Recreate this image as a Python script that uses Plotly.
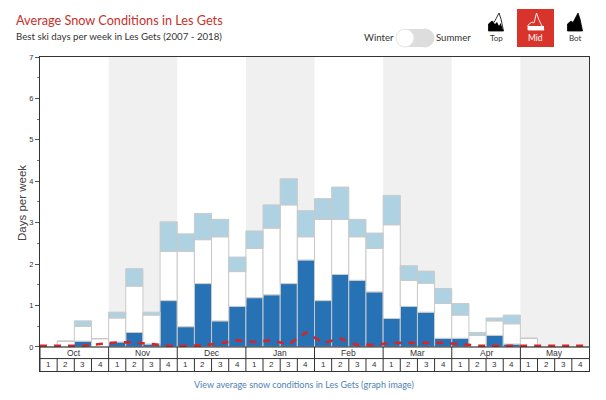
import plotly.graph_objects as go

months = ["Oct", "Nov", "Dec", "Jan", "Feb", "Mar", "Apr", "May"]
weeks = ["1", "2", "3", "4"]
best = [0, 0, .14, 0, .12, .35, .07, 1.12, .49, 1.53, .63, .98, 1.19, 1.26, 1.53, 2.10,
        1.12, 1.75, 1.61, 1.33, .69, .98, .84, .21, .21, 0, .28, .07, 0, 0, 0, 0]
good = [0, .14, .50, .20, .70, 1.47, .77, 2.31, 2.31, 2.59, 2.66, 1.82, 2.38, 2.87, 3.43, 2.66,
        3.08, 3.08, 2.66, 2.38, 2.95, 1.61, 1.54, 1.05, .77, .28, .63, .56, .21, 0, 0, 0]
total = [0, .14, .63, .20, .84, 1.89, .84, 3.02, 2.73, 3.22, 3.08, 2.17, 2.80, 3.43, 4.06, 3.29,
         3.58, 3.86, 3.08, 2.75, 3.66, 1.96, 1.83, 1.41, 1.05, .35, .70, .77, .21, 0, 0, 0]
powder = [.03, .03, .03, .07, .11, .11, .07, .03, .03, .04, .09, .16, .12, .16, .06, .35,
          .10, .20, .05, .05, .10, .10, .10, .10, .07, .03, .03, .03, .03, .03, .03, .03]

x = list(range(32))
white_h = [g - b for b, g in zip(best, good)]
light_h = [t - g for g, t in zip(good, total)]

fig = go.Figure()
XMIN, XMAX = -.5, 31.5
Y_M, Y_B = -.28, -.58

for i, m in enumerate(months):
    if i % 2 == 1:
        fig.add_shape(type="rect", xref="x", yref="y", x0=i*4-.5, x1=i*4+3.5, y0=0, y1=7,
                      fillcolor="#f0f0f0", line_width=0, layer="below")

line = dict(color="#c9c9c9", width=1)
fig.add_bar(x=x, y=best, marker=dict(color="#2672b5", line=line), width=1, name="Best")
fig.add_bar(x=x, y=white_h, base=best, marker=dict(color="#ffffff", line=line), width=1, name="Good")
fig.add_bar(x=x, y=light_h, base=good, marker=dict(color="#aed2e2", line=line), width=1, name="Fair")
fig.add_scatter(x=[-.5] + x + [31.5], y=[powder[0]] + powder + [powder[-1]], mode="lines",
                line=dict(color="#d3262c", width=2.6, dash="7px,7px"), name="Powder")

tl = dict(color="#333333", width=1)
fig.add_shape(type="line", xref="x", yref="y", x0=XMIN, x1=XMAX, y0=0, y1=0, line=tl)
fig.add_shape(type="line", xref="x", yref="y", x0=XMIN, x1=XMAX, y0=Y_M, y1=Y_M, line=tl)
for i, m in enumerate(months):
    fig.add_shape(type="line", xref="x", yref="y", x0=i*4-.5, x1=i*4-.5, y0=0, y1=Y_B, line=tl)
    fig.add_annotation(x=i*4+1.5, y=Y_M/2, text=m, showarrow=False,
                       font=dict(size=8.5, color="#333", family="Liberation Sans"))
    for j, w in enumerate(weeks):
        if j:
            fig.add_shape(type="line", xref="x", yref="y", x0=i*4+j-.5, x1=i*4+j-.5, y0=Y_M, y1=Y_B, line=tl)
        fig.add_annotation(x=i*4+j, y=(Y_M+Y_B)/2, text=w, showarrow=False,
                           font=dict(size=8, color="#333", family="Liberation Sans"))

def P(px, py):
    return (px-40)/549, (371-py)/314

def T(px, py, text, size, color, anchor="left", family="Lato", angle=0):
    a, b = P(px, py)
    fig.add_annotation(xref="paper", yref="paper", x=a, y=b, text=text, showarrow=False, textangle=angle,
                       xanchor=anchor, yanchor="middle", font=dict(size=size, color=color, family=family),
                       borderpad=0)

def poly(pts, fill, lw=0, lc="#000"):
    s = "M" + " L".join("%.4f,%.4f" % P(*p) for p in pts) + " Z"
    fig.add_shape(type="path", xref="paper", yref="paper", path=s, fillcolor=fill,
                  line=dict(width=lw, color=lc))

def circle(cx, cy, r, fill, lc):
    a, b = P(cx-r, cy+r); c, d = P(cx+r, cy-r)
    fig.add_shape(type="circle", xref="paper", yref="paper", x0=a, y0=b, x1=c, y1=d,
                  fillcolor=fill, line=dict(width=1, color=lc))

def rect(x0, y0, x1, y1, fill):
    a, b = P(x0, y1); c, d = P(x1, y0)
    fig.add_shape(type="rect", xref="paper", yref="paper", x0=a, y0=b, x1=c, y1=d,
                  fillcolor=fill, line_width=0)

T(15, 20, "Average Snow Conditions in Les Gets", 12.7, "#c9302c")
T(15, 36, "Best ski days per week in Les Gets (2007 - 2018)", 9.7, "#333333")
T(304, 384, "View average snow conditions in Les Gets (graph image)", 9, "#4f81b5", "center")
T(379, 38, "Winter", 9.6, "#333333", "center")
T(453, 38, "Summer", 9.6, "#333333", "center")
T(22, 203, "Days per week", 11.5, "#444444", "center", "Liberation Sans", -90)

# season toggle
rect(405, 29, 425, 47, "#dddddd")
circle(425, 38, 9, "#dddddd", "#dddddd")
circle(405, 38, 9, "#ffffff", "#e4e4e4")

# elevation selector
outer = [(-7.5, 31), (-7.5, 24), (-4, 21), (-2, 22.5), (3, 13), (5, 19), (7.5, 31)]
lower = [(-7.5, 31), (-7.5, 24), (-4, 21), (-1, 24), (1, 22), (3, 26), (4.5, 23), (7.5, 31)]

def icon(cx, shape_fill, lower_fill, lc):
    poly([(cx+a, b) for a, b in outer], shape_fill, 0.8, lc)
    if lower_fill:
        poly([(cx+a, b) for a, b in lower], lower_fill)

rect(517, 9, 554, 47, "#d9342b")
icon(496, "#ffffff", "#000000", "#000000")
poly([(528, 30), (528, 25), (532, 22), (534, 23), (536.5, 13), (539, 20), (544, 30)], "#d9342b", 0.9, "#ffffff")
rect(528, 26, 544, 30, "#ffffff")
icon(575, "#000000", None, "#000000")
T(496, 38, "Top", 8, "#333333", "center")
T(535.5, 38, "Mid", 8.5, "#ffffff", "center")
T(575, 38, "Bot", 8, "#333333", "center")

fig.update_layout(
    width=598, height=392, autosize=False, showlegend=False, barmode="overlay",
    paper_bgcolor="white", plot_bgcolor="white",
    margin=dict(l=32, r=17, t=49, b=29),
    xaxis=dict(range=[XMIN, XMAX], showticklabels=False, showgrid=False, zeroline=False, ticks="",
               mirror=True, showline=True, linecolor="#333", linewidth=1.3),
    yaxis=dict(range=[Y_B, 7], tickvals=[0, 1, 2, 3, 4, 5, 6, 7], showgrid=False, zeroline=False,
               ticks="outside", ticklen=4, tickcolor="#555",
               tickfont=dict(size=7.5, color="#333", family="Liberation Sans"),
               minor=dict(tickvals=[.5, 1.5, 2.5, 3.5, 4.5, 5.5, 6.5], ticks="outside", ticklen=2, tickcolor="#777"),
               mirror=True, showline=True, linecolor="#333", linewidth=1.3),
    font=dict(family="Lato"),
)
fig.write_html("out.html")
